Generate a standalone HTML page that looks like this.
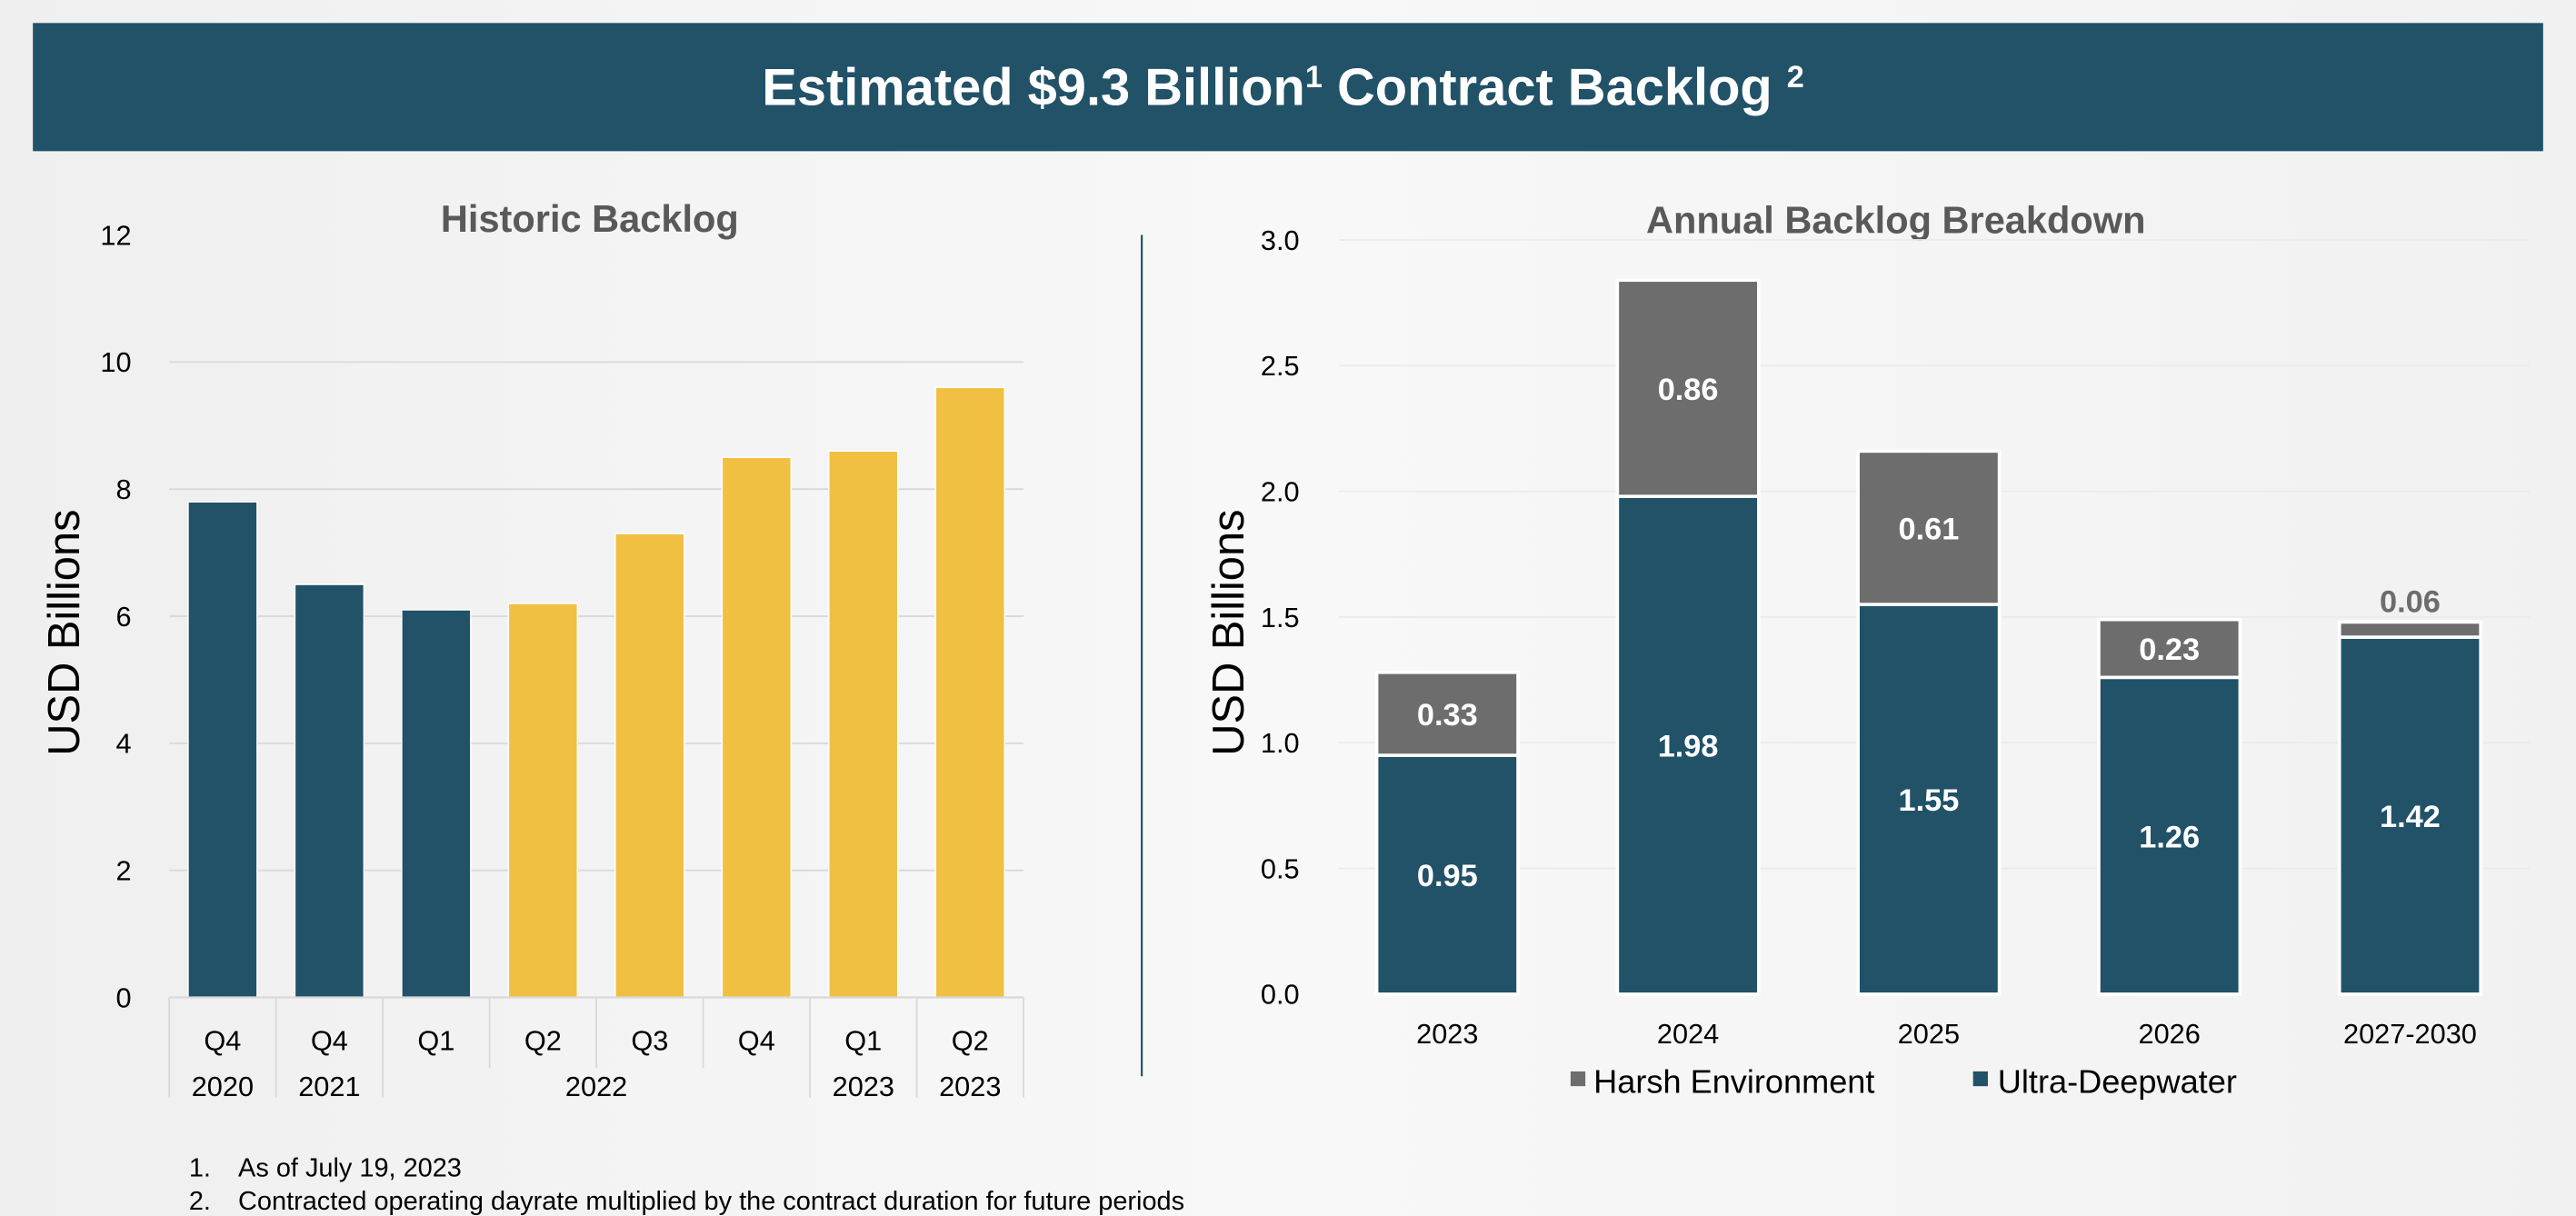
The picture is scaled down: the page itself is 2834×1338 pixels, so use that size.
<!DOCTYPE html>
<html><head><meta charset="utf-8">
<style>
html,body{margin:0;padding:0;width:2834px;height:1338px;overflow:hidden;background:#f3f3f3;}
svg{display:block;font-family:"Liberation Sans",Arial,sans-serif;}
</style></head>
<body>
<svg id="s" width="2834" height="1338" viewBox="0 0 1568 740" preserveAspectRatio="none" xmlns="http://www.w3.org/2000/svg">
<defs><linearGradient id="bg" x1="0" y1="0" x2="1" y2="0"><stop offset="0" stop-color="#efefef"/><stop offset="0.5" stop-color="#f8f8f8"/><stop offset="1" stop-color="#f1f1f1"/></linearGradient></defs>
<rect x="0" y="0" width="1568" height="740" fill="url(#bg)"/>
<rect x="20" y="14" width="1528" height="78" fill="#215268"/>
<text x="781" y="64" text-anchor="middle" font-size="32" font-weight="bold" fill="#fff">Estimated $9.3 Billion<tspan font-size="19" dy="-11">1</tspan><tspan dy="11"> Contract Backlog </tspan><tspan font-size="19" dy="-11">2</tspan></text>
<text x="359" y="141" text-anchor="middle" font-size="23" font-weight="bold" fill="#595959">Historic Backlog</text>
<text x="1154" y="142" text-anchor="middle" font-size="23" font-weight="bold" fill="#595959">Annual Backlog Breakdown</text>
<line x1="695" y1="143" x2="695" y2="655" stroke="#215268" stroke-width="1.2"/>
<text transform="translate(48,385) rotate(-90)" text-anchor="middle" font-size="27" fill="#000">USD Billions</text>
<text transform="translate(757,385) rotate(-90)" text-anchor="middle" font-size="27" fill="#000">USD Billions</text>
<g id="left"></g>
<g id="right"></g>
<g>
<rect x="956" y="652" width="9" height="9" fill="#6d6d6d"/>
<text x="970" y="665" font-size="20" fill="#000">Harsh Environment</text>
<rect x="1201" y="652" width="9" height="9" fill="#215268"/>
<text x="1216" y="665" font-size="20" fill="#000">Ultra-Deepwater</text>
</g>
<g font-size="16" fill="#000">
<text x="115" y="716">1.<tspan x="145">As of July 19, 2023</tspan></text>
<text x="115" y="736">2.<tspan x="145">Contracted operating dayrate multiplied by the contract duration for future periods</tspan></text>
</g>
</svg>
<script>
const histQuarters = ["Q4","Q4","Q1","Q2","Q3","Q4","Q1","Q2"];
const histValues = [7.8,6.5,6.1,6.2,7.3,8.5,8.6,9.6];
const histHighlight = [false,false,false,true,true,true,true,true];
const histYears = [["2020",0,1],["2021",1,2],["2022",2,6],["2023",6,7],["2023",7,8]];
const histTicks = [0,2,4,6,8,10,12];

const annCategories = ["2023","2024","2025","2026","2027-2030"];
const annUltra = [0.95,1.98,1.55,1.26,1.42];
const annHarsh = [0.33,0.86,0.61,0.23,0.06];
const annTicks = ["0.0","0.5","1.0","1.5","2.0","2.5","3.0"];

const NS="http://www.w3.org/2000/svg";
function mk(tag,attrs,parent,txt){const e=document.createElementNS(NS,tag);for(const k in attrs)e.setAttribute(k,attrs[k]);if(txt!==undefined)e.textContent=txt;parent.appendChild(e);return e;}

// Left chart
const L=document.getElementById('left');
const lx0=103,lx1=623,ly0=607,ly1=143;
const ly=v=>ly0-(v/12)*(ly0-ly1);
const bw=(lx1-lx0)/histValues.length;
histTicks.forEach(t=>{
  if(t>0&&t<12){const g=mk('line',{x1:lx0,x2:lx1,y1:ly(t),y2:ly(t),stroke:'#d9d9d9','stroke-width':1},L);
  
  }
  const tx=mk('text',{x:80,y:ly(t)+6,'text-anchor':'end','font-size':17,fill:'#000'},L,String(t));
  
  
});
histValues.forEach((v,i)=>{
  const cx=lx0+bw*(i+0.5);
  const r=mk('rect',{x:cx-21,y:ly(v),width:42,height:ly0-ly(v),fill:histHighlight[i]?'#f1bf42':'#215268',stroke:'#fff','stroke-width':0.8},L);
  
  
  const q=mk('text',{x:cx,y:639,'text-anchor':'middle','font-size':17,fill:'#000'},L,histQuarters[i]);
  
  
});
mk('line',{x1:lx0,x2:lx1,y1:ly0,y2:ly0,stroke:'#d9d9d9','stroke-width':1.2},L);
for(let i=0;i<=histValues.length;i++){
  const x=lx0+bw*i;
  const full=(i===0||i===1||i===2||i===6||i===7||i===8);
  const sep=mk('line',{x1:x,x2:x,y1:ly0,y2:full?668:650,stroke:'#d9d9d9','stroke-width':1},L);
  
  
}
histYears.forEach(y=>{
  const cx=lx0+bw*(y[1]+y[2])/2;
  const t=mk('text',{x:cx,y:667,'text-anchor':'middle','font-size':17,fill:'#000'},L,y[0]);
  
  
});

// Right chart
const R=document.getElementById('right');
const rx0=815,rx1=1540,ry0=605,ry1=146;
const ry=v=>ry0-(v/3)*(ry0-ry1);
const cw=146.5, cx0=881;
annTicks.forEach(t=>{
  const v=parseFloat(t);
  if(v>0){const g=mk('line',{x1:rx0,x2:rx1,y1:ry(v),y2:ry(v),stroke:'#ebebeb','stroke-width':1},R);
  
  }
  const tx=mk('text',{x:791,y:ry(v)+6,'text-anchor':'end','font-size':17,fill:'#000'},R,t);
  
  
});
annCategories.forEach((c,i)=>{
  const cx=cx0+cw*i, w=86;
  const u=annUltra[i], h=annHarsh[i];
  const r1=mk('rect',{x:cx-w/2,y:ry(u),width:w,height:ry0-ry(u),fill:'#215268',stroke:'#fff','stroke-width':2},R);
  
  
  const r2=mk('rect',{x:cx-w/2,y:ry(u+h),width:w,height:ry(u)-ry(u+h),fill:'#6d6d6d',stroke:'#fff','stroke-width':2},R);
  
  
  const l1=mk('text',{x:cx,y:(ry(u)+ry0)/2+7,'text-anchor':'middle','font-size':19,'font-weight':'bold',fill:'#fff'},R,u.toFixed(2));
  
  
  const hh=ry(u)-ry(u+h);
  const small=hh<20;
  const l2=mk('text',{x:cx,y:small?ry(u+h)-6:(ry(u)+ry(u+h))/2+7,'text-anchor':'middle','font-size':19,'font-weight':'bold',fill:small?'#6d6d6d':'#fff'},R,h.toFixed(2));
  
  
  const cl=mk('text',{x:cx,y:635,'text-anchor':'middle','font-size':17,fill:'#000'},R,c);
  
  
});
</script>
</body></html>
